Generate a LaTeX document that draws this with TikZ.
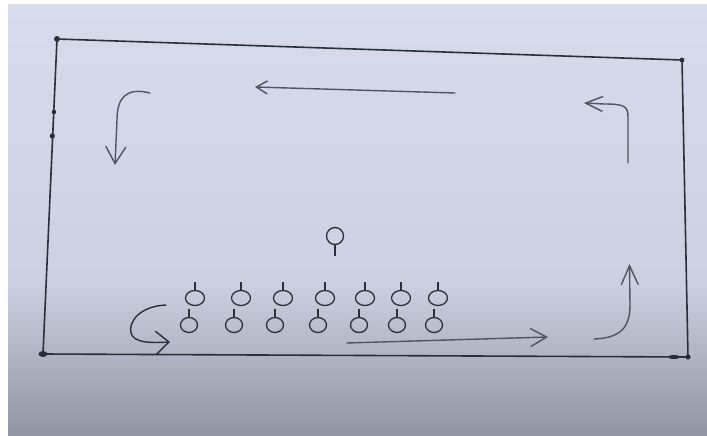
\documentclass[tikz,border=0pt]{standalone}
\usetikzlibrary{arrows.meta,shapes.geometric}
\definecolor{paperTop}{RGB}{214,220,236}
\definecolor{paperMid}{RGB}{204,209,225}
\definecolor{paperBot}{RGB}{146,149,162}
\definecolor{ink}{RGB}{45,47,56}
\definecolor{pencil}{RGB}{80,84,96}
\tikzset{
  border/.style={draw=ink, line width=1.6pt, line join=round},
  cornerdot/.style={fill=ink},
  move/.style={draw=pencil, line width=1.4pt, line cap=round},
  plyA/.style={ellipse, draw=ink, line width=1.3pt, minimum width=19pt, minimum height=15pt, inner sep=0pt},
  plyB/.style={ellipse, draw=ink, line width=1.3pt, minimum width=17pt, minimum height=15pt, inner sep=0pt},
  plyC/.style={ellipse, draw=ink, line width=1.3pt, minimum width=17pt, minimum height=17pt, inner sep=0pt},
  stick/.style={draw=ink, line width=1.2pt},
}
\begin{document}
\begin{tikzpicture}[x=1pt, y=-1pt]
\useasboundingbox (0,0) rectangle (707,436);
\fill[white] (0,0) rectangle (707,436);
\shade[top color=paperTop, bottom color=paperMid] (8,5) rectangle (707,280.5);
\shade[top color=paperMid, bottom color=paperBot] (8,280) rectangle (707,436);

% field outline
\coordinate (tl) at (57,39);
\coordinate (tr) at (682,60);
\coordinate (br) at (688,357);
\coordinate (bl) at (43,354);
\draw[border] (tl) -- (tr) -- (br) -- (bl) -- cycle;
\fill[cornerdot] (tl) circle (3pt);
\fill[cornerdot] (tr) circle (2.4pt);
\fill[cornerdot] (bl) ellipse (4.5pt and 3pt);
\fill[cornerdot] (br) circle (2.6pt);
\fill[cornerdot] (674,357) ellipse (6pt and 2pt);
\fill[cornerdot] (54,112) circle (2.3pt);
\fill[cornerdot] (52.3,136) circle (2.6pt);

% players, top row
\foreach \i/\x in {1/195,2/241,3/283,4/325,5/365,6/401,7/438}{
  \node[plyA] (a\i) at (\x,298) {};
  \draw[stick] (a\i.north) -- ++(0,-8);
}
% players, bottom row
\foreach \i/\x in {1/189,2/234,3/275,4/318,5/359,6/397,7/434}{
  \node[plyB] (b\i) at (\x,325) {};
  \draw[stick] (b\i.north) -- ++(0,-8);
}
% lone player
\node[plyC] (c) at (335,236) {};
\draw[stick] (c.south) -- ++(0,11);

% movement arrows
\coordinate (t1) at (455,93);
\coordinate (t2) at (255,87);
\draw[move, -{Straight Barb[length=11pt,width=13pt]}] (t1) -- (t2);

\coordinate (l1) at (150,93);
\coordinate (l2) at (115,165);
\draw[move, -{Straight Barb[length=17pt,width=20pt]}] (l1) .. controls (126,87) and (117,98) .. (117,120) -- (l2);

\coordinate (r1) at (628,163);
\coordinate (r2) at (584,103);
\draw[move, -{Straight Barb[length=17pt,width=15pt]}] (r1) -- (628,117) .. controls (628,106) and (624,104) .. (604,104) -- (r2);

\coordinate (s1) at (594,339);
\coordinate (s2) at (629.5,264);
\draw[move, -{Straight Barb[length=19pt,width=17pt]}] (s1) .. controls (620,338) and (630,328) .. (630,305) -- (s2);

\coordinate (u1) at (347,343);
\coordinate (u2) at (548,337);
\draw[move, -{Straight Barb[length=16pt,width=18pt]}] (u1) -- (u2);

\coordinate (k1) at (166,305);
\coordinate (k2) at (170,342);
\draw[move, draw=ink, -{Straight Barb[length=13pt,width=23pt]}] (k1) .. controls (140,306) and (128,322) .. (131,333) .. controls (134,343) and (150,343) .. (k2);
\end{tikzpicture}
\end{document}
